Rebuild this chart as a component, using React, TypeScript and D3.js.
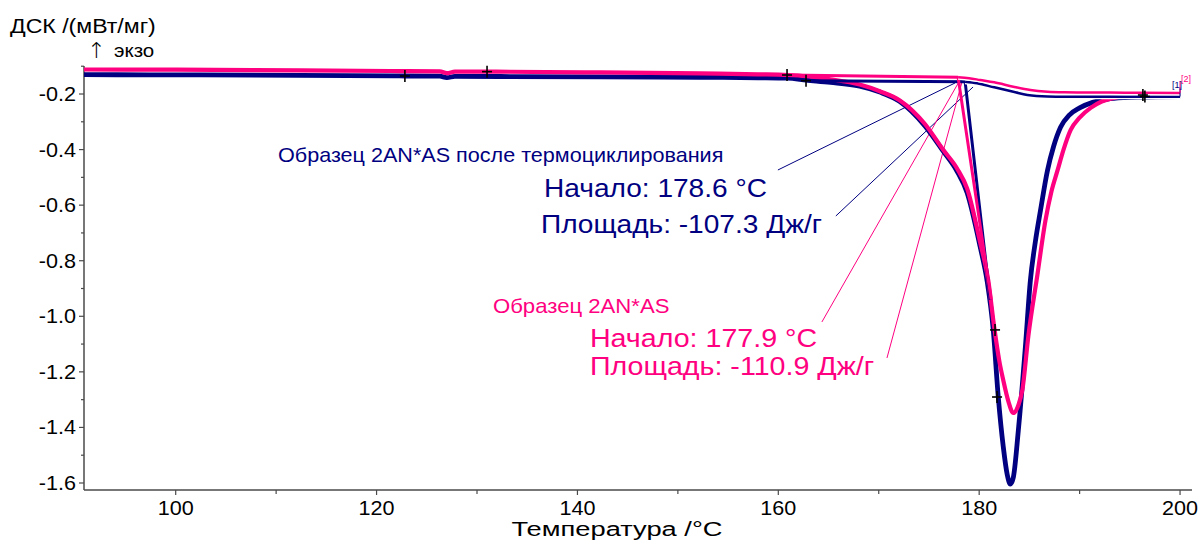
import React from "react";
import * as d3 from "d3";

const W = 1201;
const H = 542;
const NAVY = "#000080";
const PINK = "#ff0080";
const FONT = "'Liberation Sans', Arial, sans-serif";
const SX = 1.08;

// axes
const xTicks = [100, 120, 140, 160, 180, 200];
const xTickLabels = ["100", "120", "140", "160", "180", "200"];
const xMinorTicks = [110, 130, 150, 170, 190];
const yTicks = [-0.2, -0.4, -0.6, -0.8, -1.0, -1.2, -1.4, -1.6];
const yTickLabels = ["-0.2", "-0.4", "-0.6", "-0.8", "-1.0", "-1.2", "-1.4", "-1.6"];
const yMinorTicks = [-0.1, -0.3, -0.5, -0.7, -0.9, -1.1, -1.3, -1.5];

// series 1: after thermocycling (navy)
const navyT = [90.87, 97.4, 102.4, 112.4, 122.3, 126.3, 127.0, 127.8, 132.3, 142.3, 152.2, 158.0, 160.9, 162.8, 165.2, 168.1, 170.1, 172.1, 174.6, 176.4, 177.8, 178.8, 180.1, 180.8, 181.4, 181.9, 182.4, 182.8, 183.1, 183.4, 183.9, 184.6, 185.1, 185.6, 186.1, 186.8, 187.4, 188.1, 189.0, 190.0, 191.3, 192.7, 194.5, 196.0, 200.0];
const navyV = [-0.1305, -0.1308, -0.1313, -0.133, -0.135, -0.1358, -0.141, -0.1365, -0.137, -0.1385, -0.14, -0.1415, -0.143, -0.15, -0.158, -0.172, -0.193, -0.227, -0.315, -0.405, -0.478, -0.555, -0.75, -0.875, -1.049, -1.29, -1.47, -1.571, -1.604, -1.58, -1.41, -1.11, -0.87, -0.73, -0.62, -0.475, -0.39, -0.32, -0.275, -0.25, -0.23, -0.219, -0.213, -0.211, -0.209];

// series 2: sample 2AN*AS (pink)
const pinkT = [90.87, 100.0, 112.4, 122.3, 126.3, 127.0, 127.8, 131.0, 142.3, 152.2, 158.0, 160.9, 162.8, 165.2, 168.1, 170.1, 172.1, 174.6, 176.4, 177.8, 178.8, 180.1, 180.9, 181.5, 182.0, 182.4, 182.9, 183.4, 183.9, 184.3, 184.9, 185.8, 186.6, 187.2, 187.8, 188.4, 189.1, 190.0, 191.1, 192.2, 193.3, 194.8, 196.3, 200.0];
const pinkV = [-0.1118, -0.1125, -0.115, -0.1175, -0.1185, -0.125, -0.1195, -0.1195, -0.1225, -0.126, -0.129, -0.1316, -0.136, -0.147, -0.166, -0.19, -0.223, -0.308, -0.4, -0.468, -0.54, -0.735, -0.87, -1.04, -1.16, -1.23, -1.305, -1.348, -1.32, -1.265, -1.07, -0.85, -0.655, -0.55, -0.475, -0.4, -0.33, -0.285, -0.25, -0.227, -0.215, -0.204, -0.2, -0.1964];

// integration baselines
const navyBaseT = [178.6, 179.8, 181.5, 183.4, 184.8, 186.8, 188.5, 190.0, 196.0, 200.0];
const navyBaseV = [-0.1557, -0.1615, -0.176, -0.1917, -0.2036, -0.209, -0.2097, -0.2097, -0.2097, -0.2095];
const pinkBaseT = [177.9, 179.0, 180.1, 181.5, 183.4, 185.1, 186.8, 188.5, 190.1, 193.0, 196.0, 200.0];
const pinkBaseV = [-0.1395, -0.143, -0.1496, -0.158, -0.1737, -0.1856, -0.1917, -0.194, -0.1946, -0.195, -0.1953, -0.196];

// onset constructions: [extrapolated baseline start, onset, tangent end]
const navyOnsetT = [162.8, 178.6, 181.1];
const navyOnsetV = [-0.152, -0.1557, -0.941];
const pinkOnsetT = [160.9, 177.9, 181.2];
const pinkOnsetV = [-0.1316, -0.1395, -0.94];

// black "+" markers
const markT = [122.82, 131.0, 160.87, 162.76, 181.58, 181.78, 196.3, 196.5];
const markV = [-0.1352, -0.1195, -0.1316, -0.152, -1.049, -1.2905, -0.2036, -0.209];

// annotation texts
const navyLabels = ["Образец 2AN*AS после термоциклирования", "Начало: 178.6 °C", "Площадь: -107.3 Дж/г"];
const navyLabelT = [110.19, 136.67, 136.37];
const navyLabelV = [-0.4436, -0.5696, -0.7];
const navyLabelSize = [20, 26, 26];
const pinkLabels = ["Образец 2AN*AS", "Начало: 177.9 °C", "Площадь: -110.9 Дж/г"];
const pinkLabelT = [131.59, 141.24, 141.24];
const pinkLabelV = [-0.988, -1.1095, -1.2113];
const pinkLabelSize = [20.5, 26.5, 26.5];

// leader lines [startT, startV, endT, endV]
const navyLeaders = [
  [159.96, -0.4735, 177.59, -0.1604],
  [165.73, -0.639, 179.39, -0.1748],
];
const pinkLeaders = [
  [164.34, -1.0205, 178.09, -0.1496],
  [170.82, -1.15, 178.29, -0.1568],
];

function Txt({ x, y, size, fill = "#000", anchor = "start", sx = SX, children }: any) {
  return (
    <text
      transform={`translate(${x},${y}) scale(${sx},1)`}
      fontSize={size}
      fill={fill}
      textAnchor={anchor}
      fontFamily={FONT}
    >
      {children}
    </text>
  );
}

export default function App() {
  const x = d3.scaleLinear().domain([90.87, 201.19]).range([84, 1192]);
  const y = d3.scaleLinear().domain([-1.6252, -0.0992]).range([490, 66]);
  const line = d3
    .line<number[]>()
    .x((d) => x(d[0]))
    .y((d) => y(d[1]))
    .curve(d3.curveMonotoneX);
  const straight = d3
    .line<number[]>()
    .x((d) => x(d[0]))
    .y((d) => y(d[1]));

  const zip = (a: number[], b: number[]) => a.map((t, i) => [t, b[i]]);
  const navy = zip(navyT, navyV);
  const pink = zip(pinkT, pinkV);
  const navyBase = zip(navyBaseT, navyBaseV);
  const pinkBase = zip(pinkBaseT, pinkBaseV);
  const navyOn = zip(navyOnsetT, navyOnsetV);
  const pinkOn = zip(pinkOnsetT, pinkOnsetV);
  const axisColor = "#4a4a4a";

  return (
    <svg
      width={W}
      height={H}
      style={{ position: "absolute", left: 0, top: 0, background: "#fff" }}
    >
      <rect width={W} height={H} fill="#fff" />
      {/* axes */}
      <line x1={84} y1={66} x2={84} y2={490} stroke={axisColor} strokeWidth={1.5} />
      <line x1={84} y1={490} x2={1192} y2={490} stroke={axisColor} strokeWidth={1.5} />
      {yTicks.map((t, i) => (
        <g key={"yt" + i}>
          <line x1={79} x2={84} y1={y(t)} y2={y(t)} stroke={axisColor} strokeWidth={1.2} />
          <Txt x={76} y={y(t) + 7} size={20} anchor="end">
            {yTickLabels[i]}
          </Txt>
        </g>
      ))}
      {yMinorTicks.map((t, i) => (
        <line key={"ym" + i} x1={81} x2={84} y1={y(t)} y2={y(t)} stroke={axisColor} strokeWidth={1.2} />
      ))}
      {xTicks.map((t, i) => (
        <g key={"xt" + i}>
          <line x1={x(t)} x2={x(t)} y1={490} y2={495} stroke={axisColor} strokeWidth={1.2} />
          <Txt x={x(t)} y={515} size={20} anchor="middle">
            {xTickLabels[i]}
          </Txt>
        </g>
      ))}
      {xMinorTicks.map((t, i) => (
        <line key={"xm" + i} x1={x(t)} x2={x(t)} y1={490} y2={494} stroke={axisColor} strokeWidth={1.2} />
      ))}
      <Txt x={617} y={536} size={21} sx={1.3} anchor="middle">
        Температура /°C
      </Txt>
      <Txt x={10} y={33} size={21} sx={1.1}>
        ДСК /(мВт/мг)
      </Txt>
      <text x={87} y={58} fontSize={22} fontWeight={200} fontFamily="'DejaVu Sans', sans-serif" fill="#000">
        ↑
      </text>
      <Txt x={114} y={57} size={19}>
        экзо
      </Txt>

      {/* leader lines */}
      {navyLeaders.map((l, i) => (
        <line key={"nl" + i} x1={x(l[0])} y1={y(l[1])} x2={x(l[2])} y2={y(l[3])} stroke={NAVY} strokeWidth={1} />
      ))}
      {pinkLeaders.map((l, i) => (
        <line key={"pl" + i} x1={x(l[0])} y1={y(l[1])} x2={x(l[2])} y2={y(l[3])} stroke={PINK} strokeWidth={1} />
      ))}

      {/* main curves */}
      <path d={line(navy) || ""} fill="none" stroke={NAVY} strokeWidth={4.8} strokeLinejoin="round" />
      <path d={line(pink) || ""} fill="none" stroke={PINK} strokeWidth={4.2} strokeLinejoin="round" />

      {/* onset constructions */}
      <path d={straight(navyOn) || ""} fill="none" stroke={NAVY} strokeWidth={3} />
      <path d={straight(pinkOn) || ""} fill="none" stroke={PINK} strokeWidth={3} />

      {/* integration baselines */}
      <path d={line(navyBase) || ""} fill="none" stroke="#fff" strokeWidth={5} />
      <path d={line(navyBase) || ""} fill="none" stroke={NAVY} strokeWidth={2.5} />
      <path d={line(pinkBase) || ""} fill="none" stroke="#fff" strokeWidth={5} />
      <path d={line(pinkBase) || ""} fill="none" stroke={PINK} strokeWidth={2.5} />

      {/* end markers */}
      <line x1={x(200)} x2={x(200)} y1={y(navyV[navyV.length - 1])} y2={y(navyV[navyV.length - 1]) - 9} stroke={NAVY} strokeWidth={1} />
      <line x1={x(200)} x2={x(200)} y1={y(pinkV[pinkV.length - 1])} y2={y(pinkV[pinkV.length - 1]) - 12} stroke={PINK} strokeWidth={1} />
      <text x={x(200) - 8} y={y(navyV[navyV.length - 1]) - 9} fontSize={9} fill={NAVY} fontFamily={FONT}>[1]</text>
      <text x={x(200) + 1} y={y(pinkV[pinkV.length - 1]) - 11} fontSize={9} fill={PINK} fontFamily={FONT}>[2]</text>

      {/* + markers */}
      {markT.map((t, i) => (
        <g key={"m" + i} stroke="#000" strokeWidth={1.6}>
          <line x1={x(t) - 5} x2={x(t) + 5} y1={y(markV[i])} y2={y(markV[i])} />
          <line x1={x(t)} x2={x(t)} y1={y(markV[i]) - 6} y2={y(markV[i]) + 6} />
        </g>
      ))}

      {/* annotations */}
      {navyLabels.map((s, i) => (
        <Txt key={"na" + i} x={x(navyLabelT[i])} y={y(navyLabelV[i])} size={navyLabelSize[i]} fill={NAVY}>
          {s}
        </Txt>
      ))}
      {pinkLabels.map((s, i) => (
        <Txt key={"pa" + i} x={x(pinkLabelT[i])} y={y(pinkLabelV[i])} size={pinkLabelSize[i]} fill={PINK}>
          {s}
        </Txt>
      ))}
    </svg>
  );
}
